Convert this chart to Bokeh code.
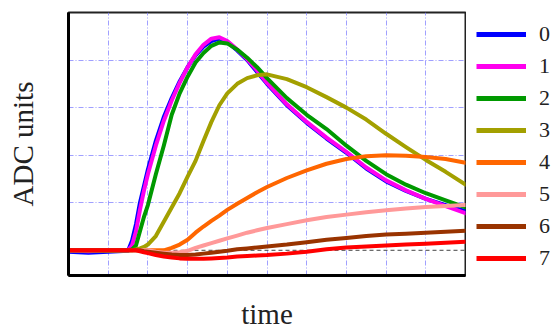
from bokeh.plotting import figure
from bokeh.layouts import row
from bokeh.models import Range1d, Legend, LegendItem, FixedTicker, Span
from bokeh.embed import file_html
from bokeh.resources import INLINE

# time samples (arbitrary units, 0..10 across the frame)
t = [0, 0.5, 1.0, 1.5, 1.6, 1.7, 1.8, 1.9, 2.0, 2.2, 2.4, 2.6, 2.8, 3.0, 3.2, 3.4,
     3.6, 3.8, 4.0, 4.25, 4.5, 4.75, 5.0, 5.5, 6.0, 6.5, 7.0, 7.5, 8.0, 8.5, 9.0, 9.5, 10.0]

ch0 = [-0.03, -0.05, -0.03, -0.01, 0.2, 0.55, 1.0, 1.35, 1.7, 2.3, 2.8, 3.2, 3.55, 3.85, 4.1, 4.28,
       4.4, 4.45, 4.38, 4.2, 4.0, 3.75, 3.5, 3.05, 2.68, 2.35, 2.05, 1.72, 1.45, 1.25, 1.08, 0.95, 0.82]
ch1 = [0.0, -0.02, 0.0, 0.0, 0.1, 0.4, 0.85, 1.25, 1.6, 2.2, 2.72, 3.15, 3.52, 3.85, 4.12, 4.32,
       4.45, 4.48, 4.4, 4.22, 4.02, 3.78, 3.52, 3.07, 2.7, 2.37, 2.07, 1.74, 1.47, 1.26, 1.08, 0.93, 0.78]
ch2 = [0.0, 0.0, -0.01, 0.0, 0.02, 0.1, 0.4, 0.7, 0.95, 1.6, 2.2, 2.85, 3.3, 3.65, 3.95, 4.15,
       4.3, 4.37, 4.35, 4.22, 4.05, 3.85, 3.62, 3.2, 2.85, 2.55, 2.2, 1.88, 1.6, 1.38, 1.2, 1.05, 0.9]
ch3 = [0.0, 0.0, 0.0, 0.0, 0.0, 0.02, 0.04, 0.07, 0.12, 0.3, 0.6, 0.9, 1.2, 1.55, 1.88, 2.3,
       2.7, 3.05, 3.3, 3.5, 3.62, 3.68, 3.7, 3.6, 3.43, 3.22, 3.0, 2.75, 2.45, 2.17, 1.9, 1.65, 1.38]
ch4 = [0.0, 0.0, 0.0, 0.0, 0.0, 0.0, 0.0, 0.0, 0.0, 0.0, 0.0, 0.05, 0.12, 0.22, 0.37, 0.5,
       0.62, 0.73, 0.85, 0.98, 1.1, 1.22, 1.33, 1.52, 1.68, 1.82, 1.92, 1.98, 2.0, 1.99, 1.96, 1.92, 1.84]
ch5 = [0.0, 0.0, 0.0, 0.0, 0.0, 0.0, 0.0, 0.0, 0.0, -0.03, -0.05, -0.05, -0.04, -0.01, 0.05, 0.1,
       0.15, 0.2, 0.25, 0.31, 0.37, 0.42, 0.47, 0.55, 0.63, 0.7, 0.75, 0.8, 0.84, 0.88, 0.91, 0.93, 0.95]
ch6 = [0.0, 0.0, 0.0, 0.0, 0.0, 0.0, 0.0, -0.02, -0.03, -0.05, -0.07, -0.09, -0.1, -0.1, -0.09, -0.07,
       -0.05, -0.03, -0.01, 0.02, 0.04, 0.06, 0.08, 0.12, 0.17, 0.22, 0.26, 0.3, 0.33, 0.35, 0.37, 0.39, 0.41]
ch7 = [0.0, 0.0, 0.0, 0.0, 0.0, 0.0, -0.02, -0.04, -0.06, -0.1, -0.13, -0.15, -0.17, -0.18, -0.18, -0.18,
       -0.17, -0.16, -0.15, -0.13, -0.12, -0.11, -0.1, -0.07, -0.03, 0.02, 0.06, 0.08, 0.1, 0.12, 0.14, 0.16, 0.18]

series = [ch0, ch1, ch2, ch3, ch4, ch5, ch6, ch7]
labels = ["0", "1", "2", "3", "4", "5", "6", "7"]
colors = ["#0000ff", "#ff00ee", "#009900", "#a3a000", "#ff6600", "#ff9999", "#993300", "#ff0000"]

x_grid = [1, 2, 3, 4, 5, 6, 7, 8, 9]
y_grid = [1, 2, 3, 4]

H = 332
TOP = 12
BOTTOM = 57
p = figure(width=466, height=H, x_range=Range1d(0, 10), y_range=Range1d(-0.53, 5.0),
           output_backend="svg", toolbar_location=None,
           min_border_left=68, min_border_top=TOP, min_border_bottom=BOTTOM, min_border_right=1)
p.background_fill_color = "white"
p.border_fill_color = "white"
p.outline_line_color = "#222222"
p.outline_line_width = 2

for ax in (p.xaxis, p.yaxis):
    ax.ticker = FixedTicker(ticks=[])
    ax.major_tick_line_color = None
    ax.minor_tick_line_color = None
    ax.major_label_standoff = 0
    ax.axis_line_width = 3
    ax.axis_line_color = "black"
    ax.axis_label_text_font = "Liberation Serif"
    ax.axis_label_text_font_size = "29px"
    ax.axis_label_text_font_style = "normal"
    ax.axis_label_text_color = "#222222"
p.xaxis.axis_label = "time"
p.yaxis.axis_label = "ADC units"
p.xaxis.axis_label_standoff = 22
p.yaxis.axis_label_standoff = 30

p.xgrid.ticker = FixedTicker(ticks=x_grid)
p.ygrid.ticker = FixedTicker(ticks=y_grid)
p.grid.grid_line_color = "#8888ff"
p.grid.grid_line_dash = "5 2 1 2"
p.grid.grid_line_width = 1
p.grid.grid_line_alpha = 0.8

zero = Span(location=0, dimension="width", line_color="#444444", line_dash="4 3",
            line_width=1, level="underlay")
p.add_layout(zero)

# legend lives in a narrow companion figure to the right of the plot;
# its range is set away from the data so its copies of the series stay out of view
lg = figure(width=90, height=H, x_range=Range1d(20, 21), y_range=Range1d(20, 21),
            output_backend="svg", toolbar_location=None,
            min_border_left=1, min_border_top=TOP, min_border_bottom=BOTTOM, min_border_right=0)
lg.xaxis.visible = False
lg.yaxis.visible = False
lg.grid.visible = False
lg.outline_line_color = None
lg.background_fill_color = "white"
lg.border_fill_color = "white"

items = []
for lab, ys, c in zip(labels, series, colors):
    p.line(t, ys, line_color=c, line_width=4, line_join="round", line_cap="round")
    proxy = lg.line(t, ys, line_color=c, line_width=5)
    items.append(LegendItem(label=lab, renderers=[proxy]))

legend = Legend(items=items, location="top_left", orientation="vertical",
                glyph_width=50, glyph_height=20, label_height=20, label_standoff=13,
                spacing=6, padding=0, margin=9, border_line_alpha=0,
                background_fill_alpha=0, label_text_font="Liberation Serif",
                label_text_font_size="22px", label_text_color="#222222")
lg.add_layout(legend, "center")

layout = row(p, lg, spacing=0)
open("out.html", "w").write(file_html(layout, INLINE))
